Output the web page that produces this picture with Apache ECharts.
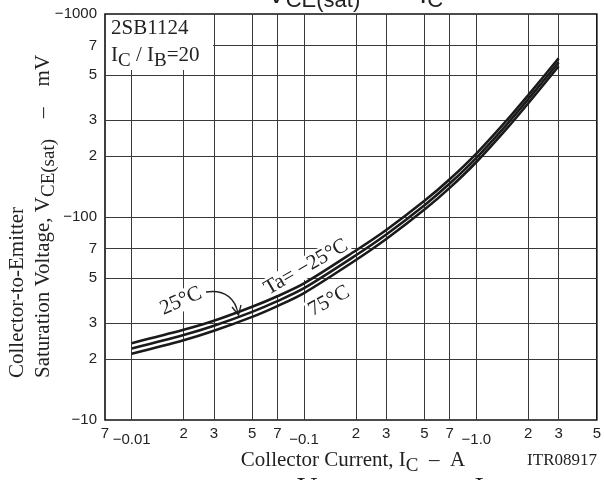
<!DOCTYPE html>
<html><head><meta charset="utf-8">
<script src="https://cdn.jsdelivr.net/npm/echarts@6/dist/echarts.min.js"></script>
<style>html,body{margin:0;padding:0;background:#fff}#c{width:604px;height:480px}</style>
</head><body><div id="c"></div>
<script>
// ---- data ----
const currentA = [0.01, 0.02, 0.03, 0.05, 0.07, 0.1, 0.2, 0.3, 0.5, 0.7, 1.0, 1.5, 2.0, 3.0];
const vceTaM25 = [-23.9, -27.8, -30.8, -36.1, -40.7, -47.1, -68.4, -86.3, -120.1, -153.4, -205.3, -299.1, -398.4, -604.6];
const vceTa25  = [-22.5, -26.2, -29.1, -34.1, -38.5, -44.6, -64.8, -82.0, -114.3, -146.1, -195.7, -285.4, -380.5, -578.0];
const vceTa75  = [-21.2, -24.7, -27.5, -32.2, -36.4, -42.2, -61.4, -77.9, -108.8, -139.1, -186.6, -272.3, -363.4, -552.6];

const xMin = 0.007, xMax = 5;
const yMin = 10, yMax = 1000;
const xGridValues = [0.01, 0.02, 0.03, 0.05, 0.07, 0.1, 0.2, 0.3, 0.5, 0.7, 1, 2, 3];
const yGridValues = [20, 30, 50, 70, 100, 200, 300, 500, 700];
const xLabelValues = [0.007, 0.01, 0.02, 0.03, 0.05, 0.07, 0.1, 0.2, 0.3, 0.5, 0.7, 1, 2, 3, 5];
const xLabelTexts  = ['7', '−0.01', '2', '3', '5', '7', '−0.1', '2', '3', '5', '7', '−1.0', '2', '3', '5'];
const yLabelValues = [10, 20, 30, 50, 70, 100, 200, 300, 500, 700, 1000];
const yLabelTexts  = ['−10', '2', '3', '5', '7', '−100', '2', '3', '5', '7', '−1000'];

const SERIF = "'Liberation Serif','Times New Roman',serif";
const SANS = "'Liberation Sans',Arial,sans-serif";
const lg = Math.log10;

function labelFmt(values, texts, rich) {
  return function (val) {
    for (let i = 0; i < values.length; i++) {
      if (Math.abs(lg(values[i]) - val) < 1e-6) {
        const t = texts[i];
        return rich && t.charAt(0) === '−' ? '{d|' + t + '}' : t;
      }
    }
    return '';
  };
}
function pts(vals) { return currentA.map((x, i) => [lg(x), lg(Math.abs(vals[i]))]); }

const subStyle = (fs, pad) => ({ fontSize: fs, fontFamily: SERIF, fill: '#222', padding: [pad, 0, 0, 0] });
const serifText = (x, y, text, extra) => Object.assign({ type: 'text', x: x, y: y, z: 4,
  style: Object.assign({ text: text, fontSize: 21, fontFamily: SERIF, fill: '#222', align: 'left', verticalAlign: 'middle', rich: { s: subStyle(19, 12) } }, extra && extra.style) },
  extra && extra.el);

const chart = echarts.init(document.getElementById('c'), null, { renderer: 'canvas' });
const lineStyle = { color: '#1a1a1a', width: 2.6 };
chart.setOption({
  animation: false,
  backgroundColor: '#fff',
  grid: { left: 105, right: 7, top: 14, bottom: 60, show: true, borderColor: '#111', borderWidth: 1.6, backgroundColor: 'transparent' },
  xAxis: {
    type: 'value', min: lg(xMin), max: lg(xMax),
    axisLine: { show: false },
    axisTick: { show: false, customValues: xGridValues.map(lg) },
    splitLine: { show: true, lineStyle: { color: '#3a3a3a', width: 1 } },
    axisLabel: {
      customValues: xLabelValues.map(lg), formatter: labelFmt(xLabelValues, xLabelTexts, true),
      margin: 6, color: '#222', fontSize: 15, fontFamily: SANS,
      rich: { d: { fontSize: 15, fontFamily: SANS, color: '#222', padding: [6, 0, 0, 0] } }
    }
  },
  yAxis: {
    type: 'value', min: lg(yMin), max: lg(yMax),
    axisLine: { show: false },
    axisTick: { show: false, customValues: yGridValues.map(lg) },
    splitLine: { show: true, lineStyle: { color: '#3a3a3a', width: 1 } },
    axisLabel: {
      customValues: yLabelValues.map(lg), formatter: labelFmt(yLabelValues, yLabelTexts, false),
      margin: 8, color: '#222', fontSize: 15, fontFamily: SANS
    }
  },
  series: [
    { name: 'Ta=−25°C', type: 'line', data: pts(vceTaM25), smooth: 0.3, symbol: 'none', lineStyle: lineStyle, z: 5 },
    { name: '25°C', type: 'line', data: pts(vceTa25), smooth: 0.3, symbol: 'none', lineStyle: lineStyle, z: 5 },
    { name: '75°C', type: 'line', data: pts(vceTa75), smooth: 0.3, symbol: 'none', lineStyle: lineStyle, z: 5 }
  ],
  graphic: [
    // white box behind the part-number annotation
    { type: 'rect', shape: { x: 106, y: 15, width: 107, height: 55 }, style: { fill: '#fff' }, z: 3 },
    serifText(111, 28, '2SB1124'),
    serifText(111, 55, 'I{s|C} / I{s|B}=20'),
    // temperature annotations
    serifText(306, 267, 'Ta= −25°C', { el: { rotation: 0.52 }, style: { align: 'center', backgroundColor: '#fff', padding: [0, 2, 0, 2] } }),
    serifText(329, 301, '75°C', { el: { rotation: 0.5 }, style: { align: 'center', backgroundColor: '#fff', padding: [0, 2, 0, 2] } }),
    serifText(181, 301, '25°C', { el: { rotation: 0.42 }, style: { align: 'center', backgroundColor: '#fff', padding: [0, 2, 0, 2] } }),
    { type: 'bezierCurve', z: 4, shape: { x1: 206, y1: 292, cpx1: 226, cpy1: 289, cpx2: 236, cpy2: 300, x2: 238, y2: 314 }, style: { stroke: '#222', lineWidth: 1.3, fill: null } },
    { type: 'polyline', z: 4, shape: { points: [[232, 307], [238.5, 315], [241, 305]] }, style: { stroke: '#222', lineWidth: 1.3, fill: null } },
    // axis titles
    serifText(353, 460, 'Collector Current, I{s|C}  –  A', { style: { align: 'center' } }),
    serifText(597, 461, 'ITR08917', { style: { align: 'right', fontSize: 17 } }),
    serifText(17, 378, 'Collector-to-Emitter', { el: { rotation: Math.PI / 2 } }),
    serifText(43, 378, 'Saturation Voltage, V{s|CE(sat)}    –    mV', { el: { rotation: Math.PI / 2 } }),
    // clipped datasheet titles at the very top and bottom
    { type: 'text', x: 267, y: -5, style: { text: 'V{s|CE(sat)}  —  I{s|C}', fontSize: 28, fontFamily: SANS, fill: '#222', align: 'left', verticalAlign: 'middle', rich: { s: { fontSize: 22, fontFamily: SANS, fill: '#222', padding: [12, 0, 0, 0] } } } },
    { type: 'text', x: 297, y: 489, style: { text: 'V{s|CE(sat)}    —    I{s|C}', fontSize: 28, fontFamily: SERIF, fill: '#222', align: 'left', verticalAlign: 'middle', rich: { s: { fontSize: 24, fontFamily: SERIF, fill: '#222', padding: [16, 0, 0, 0] } } } }
  ]
});
</script></body></html>
